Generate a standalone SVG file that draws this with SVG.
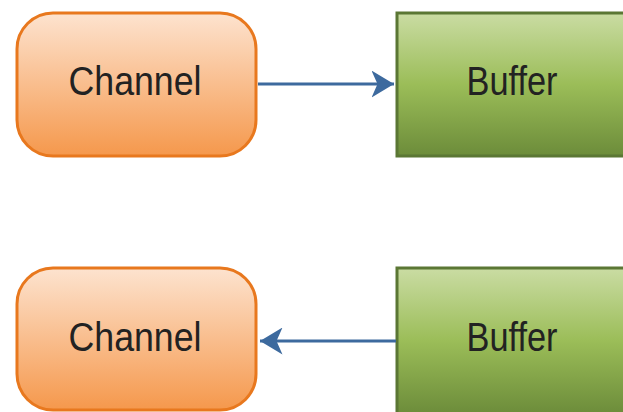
<svg xmlns="http://www.w3.org/2000/svg" width="623" height="412" viewBox="0 0 623 412">
<defs>
<linearGradient id="gOrange" x1="0" y1="0" x2="0" y2="1">
<stop offset="0" stop-color="#FDE3CF"/>
<stop offset="1" stop-color="#F5984C"/>
</linearGradient>
<linearGradient id="gGreen" x1="0" y1="0" x2="0" y2="1">
<stop offset="0" stop-color="#CADCA3"/>
<stop offset="0.5" stop-color="#9BBD58"/>
<stop offset="1" stop-color="#6C8C3A"/>
</linearGradient>
<marker id="arrow" markerWidth="8" markerHeight="9" refX="7.5" refY="4.5" orient="auto" markerUnits="strokeWidth">
<path d="M0,0 L7.5,4.5 L0,9 L2,4.5 Z" fill="#3D6A9E"/>
</marker>
</defs>
<style>
.ch{fill:url(#gOrange);stroke:#E8781E;stroke-width:3}
.bf{fill:url(#gGreen);stroke:#5B7734;stroke-width:3}
.lbl{font-family:"Liberation Sans",Arial,sans-serif;font-size:40px;fill:#222222;text-anchor:middle}
.conn{stroke:#3D6A9E;stroke-width:3;fill:none;marker-end:url(#arrow)}
</style>
<g id="channel1">
<rect class="ch" x="17" y="13" width="239" height="143" rx="36" ry="36"/>
<text class="lbl" x="135" y="95" textLength="133" lengthAdjust="spacingAndGlyphs">Channel</text>
</g>
<g id="buffer1">
<rect class="bf" x="397" y="13" width="236" height="143"/>
<text class="lbl" x="512" y="95" textLength="91" lengthAdjust="spacingAndGlyphs">Buffer</text>
</g>
<g id="channel2">
<rect class="ch" x="17" y="268" width="239" height="142" rx="36" ry="36"/>
<text class="lbl" x="135" y="351" textLength="133" lengthAdjust="spacingAndGlyphs">Channel</text>
</g>
<g id="buffer2">
<rect class="bf" x="397" y="268" width="236" height="146"/>
<text class="lbl" x="512" y="351" textLength="91" lengthAdjust="spacingAndGlyphs">Buffer</text>
</g>
<g id="connectors">
<line class="conn" x1="258" y1="84" x2="394" y2="84"/>
<line class="conn" x1="396" y1="341" x2="260" y2="341"/>
</g>
</svg>
